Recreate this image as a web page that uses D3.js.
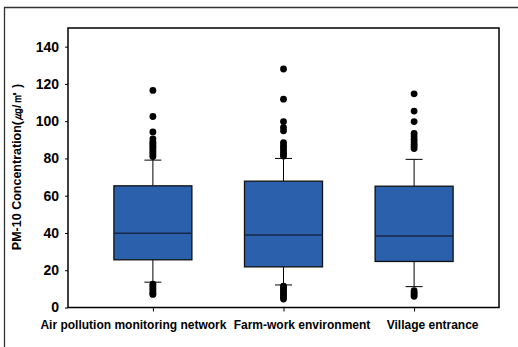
<!DOCTYPE html>
<html>
<head>
<meta charset="utf-8">
<script src="https://cdn.jsdelivr.net/npm/d3@7"></script>
<style>
  body { margin: 0; background: #fff; }
  text { font-family: "Liberation Sans", Arial, sans-serif; font-weight: bold; fill: #000; }
</style>
</head>
<body>
<div id="chart"></div>
<script>
var categories = ["Air pollution monitoring network", "Farm-work environment", "Village entrance"];
var q1 = [25.6, 21.8, 24.7];
var medians = [39.8, 38.9, 38.4];
var q3 = [65.3, 67.8, 65.1];
var whiskerLow = [13.6, 12.1, 11.2];
var whiskerHigh = [79.1, 80.0, 79.5];
var outliersHigh = [
  [116.5, 102.5, 94.2, 90.5, 89, 88, 87, 86, 85, 84, 83, 82, 81],
  [128, 111.8, 99.8, 96.6, 94.8, 88.5, 87, 85.8, 84.5, 83.1, 82, 81.3],
  [114.7, 105.4, 99.8, 93.5, 92, 90.3, 89, 87.6, 86.5, 85.3]
];
var outliersLow = [
  [12.5, 11.5, 10.5, 9.5, 8.5, 7.5, 7],
  [11.5, 10.5, 9.5, 8.5, 7.5, 6.5, 5.5, 4.5],
  [9, 8, 7, 6]
];
var yTicks = [0, 20, 40, 60, 80, 100, 120, 140];

var W = 518, H = 347;
var mLeft = 68, mRight = 499, mTop = 28, mBottom = 307.5;
var labelShift = [-20, 18, 18];

var svg = d3.select("#chart").append("svg")
  .attr("width", W)
  .attr("height", H);

// outer frame (only top and left edges show)
svg.append("path")
  .attr("d", "M4.5," + H + "V7.5H" + W)
  .attr("fill", "none")
  .attr("stroke", "#333")
  .attr("stroke-width", 1.3);

var x = d3.scalePoint().domain(categories).range([mLeft, mRight]).padding(0.65);
var y = d3.scaleLinear().domain([0, 150]).range([mBottom, mTop]);

var yAxis = svg.append("g")
  .attr("transform", "translate(" + mLeft + ",0)")
  .call(d3.axisLeft(y).tickValues(yTicks).tickSize(3).tickPadding(6).tickFormat(d3.format("d")));
yAxis.select(".domain").remove();
yAxis.selectAll("text").style("font-size", "14px").style("font-family", "Liberation Sans, Arial, sans-serif");
yAxis.selectAll("line").attr("stroke", "#000");

var xAxis = svg.append("g")
  .attr("transform", "translate(0," + mBottom + ")")
  .call(d3.axisBottom(x).tickSize(4).tickPadding(9));
xAxis.select(".domain").remove();
xAxis.selectAll("text")
  .style("font-size", "12px")
  .style("font-family", "Liberation Sans, Arial, sans-serif")
  .attr("dx", function(d, i) { return labelShift[i]; });
xAxis.selectAll("line").attr("stroke", "#000");

// plot frame
svg.append("rect")
  .attr("x", mLeft)
  .attr("y", mTop)
  .attr("width", mRight - mLeft)
  .attr("height", mBottom - mTop)
  .attr("fill", "none")
  .attr("stroke", "#000")
  .attr("stroke-width", 1.5);

var boxW = 78, capW = 17;

categories.forEach(function(c, i) {
  var cx = x(c);
  var g = svg.append("g");

  // whiskers
  g.append("line").attr("x1", cx).attr("x2", cx)
    .attr("y1", y(q3[i])).attr("y2", y(whiskerHigh[i]))
    .attr("stroke", "#000").attr("stroke-width", 1);
  g.append("line").attr("x1", cx).attr("x2", cx)
    .attr("y1", y(q1[i])).attr("y2", y(whiskerLow[i]))
    .attr("stroke", "#000").attr("stroke-width", 1);
  g.append("line").attr("x1", cx - capW / 2).attr("x2", cx + capW / 2)
    .attr("y1", y(whiskerHigh[i])).attr("y2", y(whiskerHigh[i]))
    .attr("stroke", "#000").attr("stroke-width", 1);
  g.append("line").attr("x1", cx - capW / 2).attr("x2", cx + capW / 2)
    .attr("y1", y(whiskerLow[i])).attr("y2", y(whiskerLow[i]))
    .attr("stroke", "#000").attr("stroke-width", 1);

  // box
  g.append("rect")
    .attr("x", cx - boxW / 2)
    .attr("y", y(q3[i]))
    .attr("width", boxW)
    .attr("height", y(q1[i]) - y(q3[i]))
    .attr("fill", "#2B60AC")
    .attr("stroke", "#111")
    .attr("stroke-width", 1.3);

  g.append("line")
    .attr("x1", cx - boxW / 2).attr("x2", cx + boxW / 2)
    .attr("y1", y(medians[i])).attr("y2", y(medians[i]))
    .attr("stroke", "#16284a").attr("stroke-width", 1.5);

  // outliers
  g.selectAll("circle.o")
    .data(outliersHigh[i].concat(outliersLow[i]))
    .enter().append("circle")
    .attr("cx", cx)
    .attr("cy", function(d) { return y(d); })
    .attr("r", 3.4)
    .attr("fill", "#000");
});

svg.append("text")
  .attr("transform", "translate(21,167) rotate(-90)")
  .attr("text-anchor", "middle")
  .style("font-size", "12.5px")
  .text("PM-10 Concentration(㎍/㎥ )");
</script>
</body>
</html>
